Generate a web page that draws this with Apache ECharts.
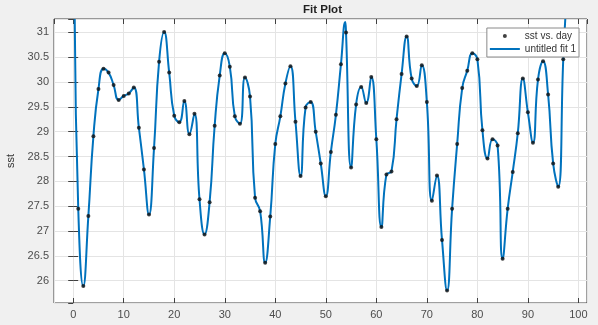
<!DOCTYPE html>
<html>
<head>
<meta charset="utf-8">
<script src="https://cdn.jsdelivr.net/npm/echarts@6/dist/echarts.min.js"></script>
<style>
html,body{margin:0;padding:0;background:#f0f0f0;}
#c{width:598px;height:325px;}
</style>
</head>
<body>
<div id="c"></div>
<script>
const days = [1,2,3,4,5,6,7,8,9,10,11,12,13,14,15,16,17,18,19,20,21,22,23,24,25,26,27,28,29,30,31,32,33,34,35,36,37,38,39,40,41,42,43,44,45,46,47,48,49,50,51,52,53,54,55,56,57,58,59,60,61,62,63,64,65,66,67,68,69,70,71,72,73,74,75,76,77,78,79,80,81,82,83,84,85,86,87,88,89,90,91,92,93,94,95,96,97];
const sst = [27.45,25.89,27.30,28.91,29.86,30.27,30.19,29.94,29.64,29.72,29.77,29.89,29.08,28.24,27.33,28.67,30.41,31.01,30.19,29.32,29.19,29.62,28.95,29.36,27.64,26.93,27.58,29.12,30.13,30.58,30.31,29.31,29.16,30.09,29.71,27.67,27.40,26.36,27.29,28.75,29.31,29.97,30.32,29.20,28.11,29.49,29.60,29.00,28.36,27.70,28.59,29.34,30.36,31.00,28.28,29.55,29.90,29.58,30.10,28.85,27.08,28.14,28.20,29.25,30.16,30.92,30.07,29.92,30.34,29.60,27.61,28.12,26.82,25.80,27.45,28.75,29.88,30.23,30.58,30.46,29.03,28.46,28.85,28.72,26.44,27.45,28.19,28.97,30.07,29.39,28.78,30.05,30.42,29.75,28.36,27.89,30.46];
// extra samples of the fitted curve (ends leaving the frame, a peak)
const fitExtraDays = [0.3, 53.85, 97.4];
const fitExtraValues = [31.27, 31.21, 31.27];
const seriesNames = ['sst vs. day', 'untitled fit 1'];
const xTicks = [0,10,20,30,40,50,60,70,80,90,100];
const yTicks = [26,26.5,27,27.5,28,28.5,29,29.5,30,30.5,31];

const points = days.map((d,i)=>[d, sst[i]]);
let fit = points.concat(fitExtraDays.map((d,i)=>[d, fitExtraValues[i]]));
fit.sort((a,b)=>a[0]-b[0]);

const axisCol = '#404040';
const gridCol = '#e4e4e4';
const labelCol = '#4d4d4d';
const font = 'Liberation Sans, Arial, Helvetica, sans-serif';

function xAx(pos, show){
  return {
    type:'value', position:pos, min:-3.8, max:101.7, splitNumber:10,
    axisLine:{show:false},
    axisTick:{show:true, inside:true, length:5, lineStyle:{color:axisCol}},
    splitLine:{show:show, lineStyle:{color:gridCol, width:1}},
    axisLabel:{show:show, color:labelCol, fontSize:11, fontFamily:font, margin:6,
      showMinLabel:false, showMaxLabel:false,
      formatter:(v)=> xTicks.indexOf(v)>=0 ? String(v) : ''},
    name: show ? 'day' : '', nameLocation:'middle', nameGap:19,
    nameTextStyle:{color:'#333', fontSize:11, fontFamily:font}
  };
}
function yAx(pos, show){
  return {
    type:'value', position:pos, min:25.55, max:31.27, splitNumber:11,
    axisLine:{show:false},
    axisTick:{show:true, inside:true, length:5, lineStyle:{color:axisCol}},
    splitLine:{show:show, lineStyle:{color:gridCol, width:1}},
    axisLabel:{show:show, color:labelCol, fontSize:11, fontFamily:font, margin:5,
      showMinLabel:false, showMaxLabel:false,
      formatter:(v)=> yTicks.some(t=>Math.abs(t-v)<1e-6) ? String(v) : ''},
    name: show ? 'sst' : '', nameLocation:'middle', nameGap:28, nameRotate:90,
    nameTextStyle:{color:'#333', fontSize:11, fontFamily:font}
  };
}

const chart = echarts.init(document.getElementById('c'), null, {renderer:'canvas'});
chart.setOption({
  backgroundColor:'#f0f0f0',
  animation:false,
  title:{text:'Fit Plot', left:303, top:4, padding:0,
    textStyle:{fontSize:11.5, fontWeight:'bold', color:'#222', fontFamily:font}},
  grid:{left:54, right:11, top:19, bottom:22, show:true, backgroundColor:'#ffffff',
    borderColor:axisCol, borderWidth:1, containLabel:false, outerBoundsMode:'none'},
  legend:{
    orient:'vertical', right:19, top:28, padding:[2,3,2,3], itemGap:1,
    itemWidth:30, itemHeight:4, backgroundColor:'#ffffff', borderColor:'#8a8a8a', borderWidth:1,
    borderRadius:0,
    textStyle:{fontSize:10, color:'#333', fontFamily:font, lineHeight:12},
    data:[{name:seriesNames[0], icon:'circle'},
          {name:seriesNames[1], icon:'path://M0,0H30V2H0Z'}]
  },
  xAxis:[xAx('bottom', true), xAx('top', false)],
  yAxis:[yAx('left', true), yAx('right', false)],
  series:[
    {name:seriesNames[1], type:'line', data:fit, smooth:0.5, symbol:'none', showSymbol:false,
      clip:true, z:2, lineStyle:{color:'#0072BD', width:2}, itemStyle:{color:'#0072BD'}},
    {name:seriesNames[0], type:'scatter', data:points, symbol:'circle', symbolSize:4,
      z:3, itemStyle:{color:'#111111'}}
  ]
});
</script>
</body>
</html>
